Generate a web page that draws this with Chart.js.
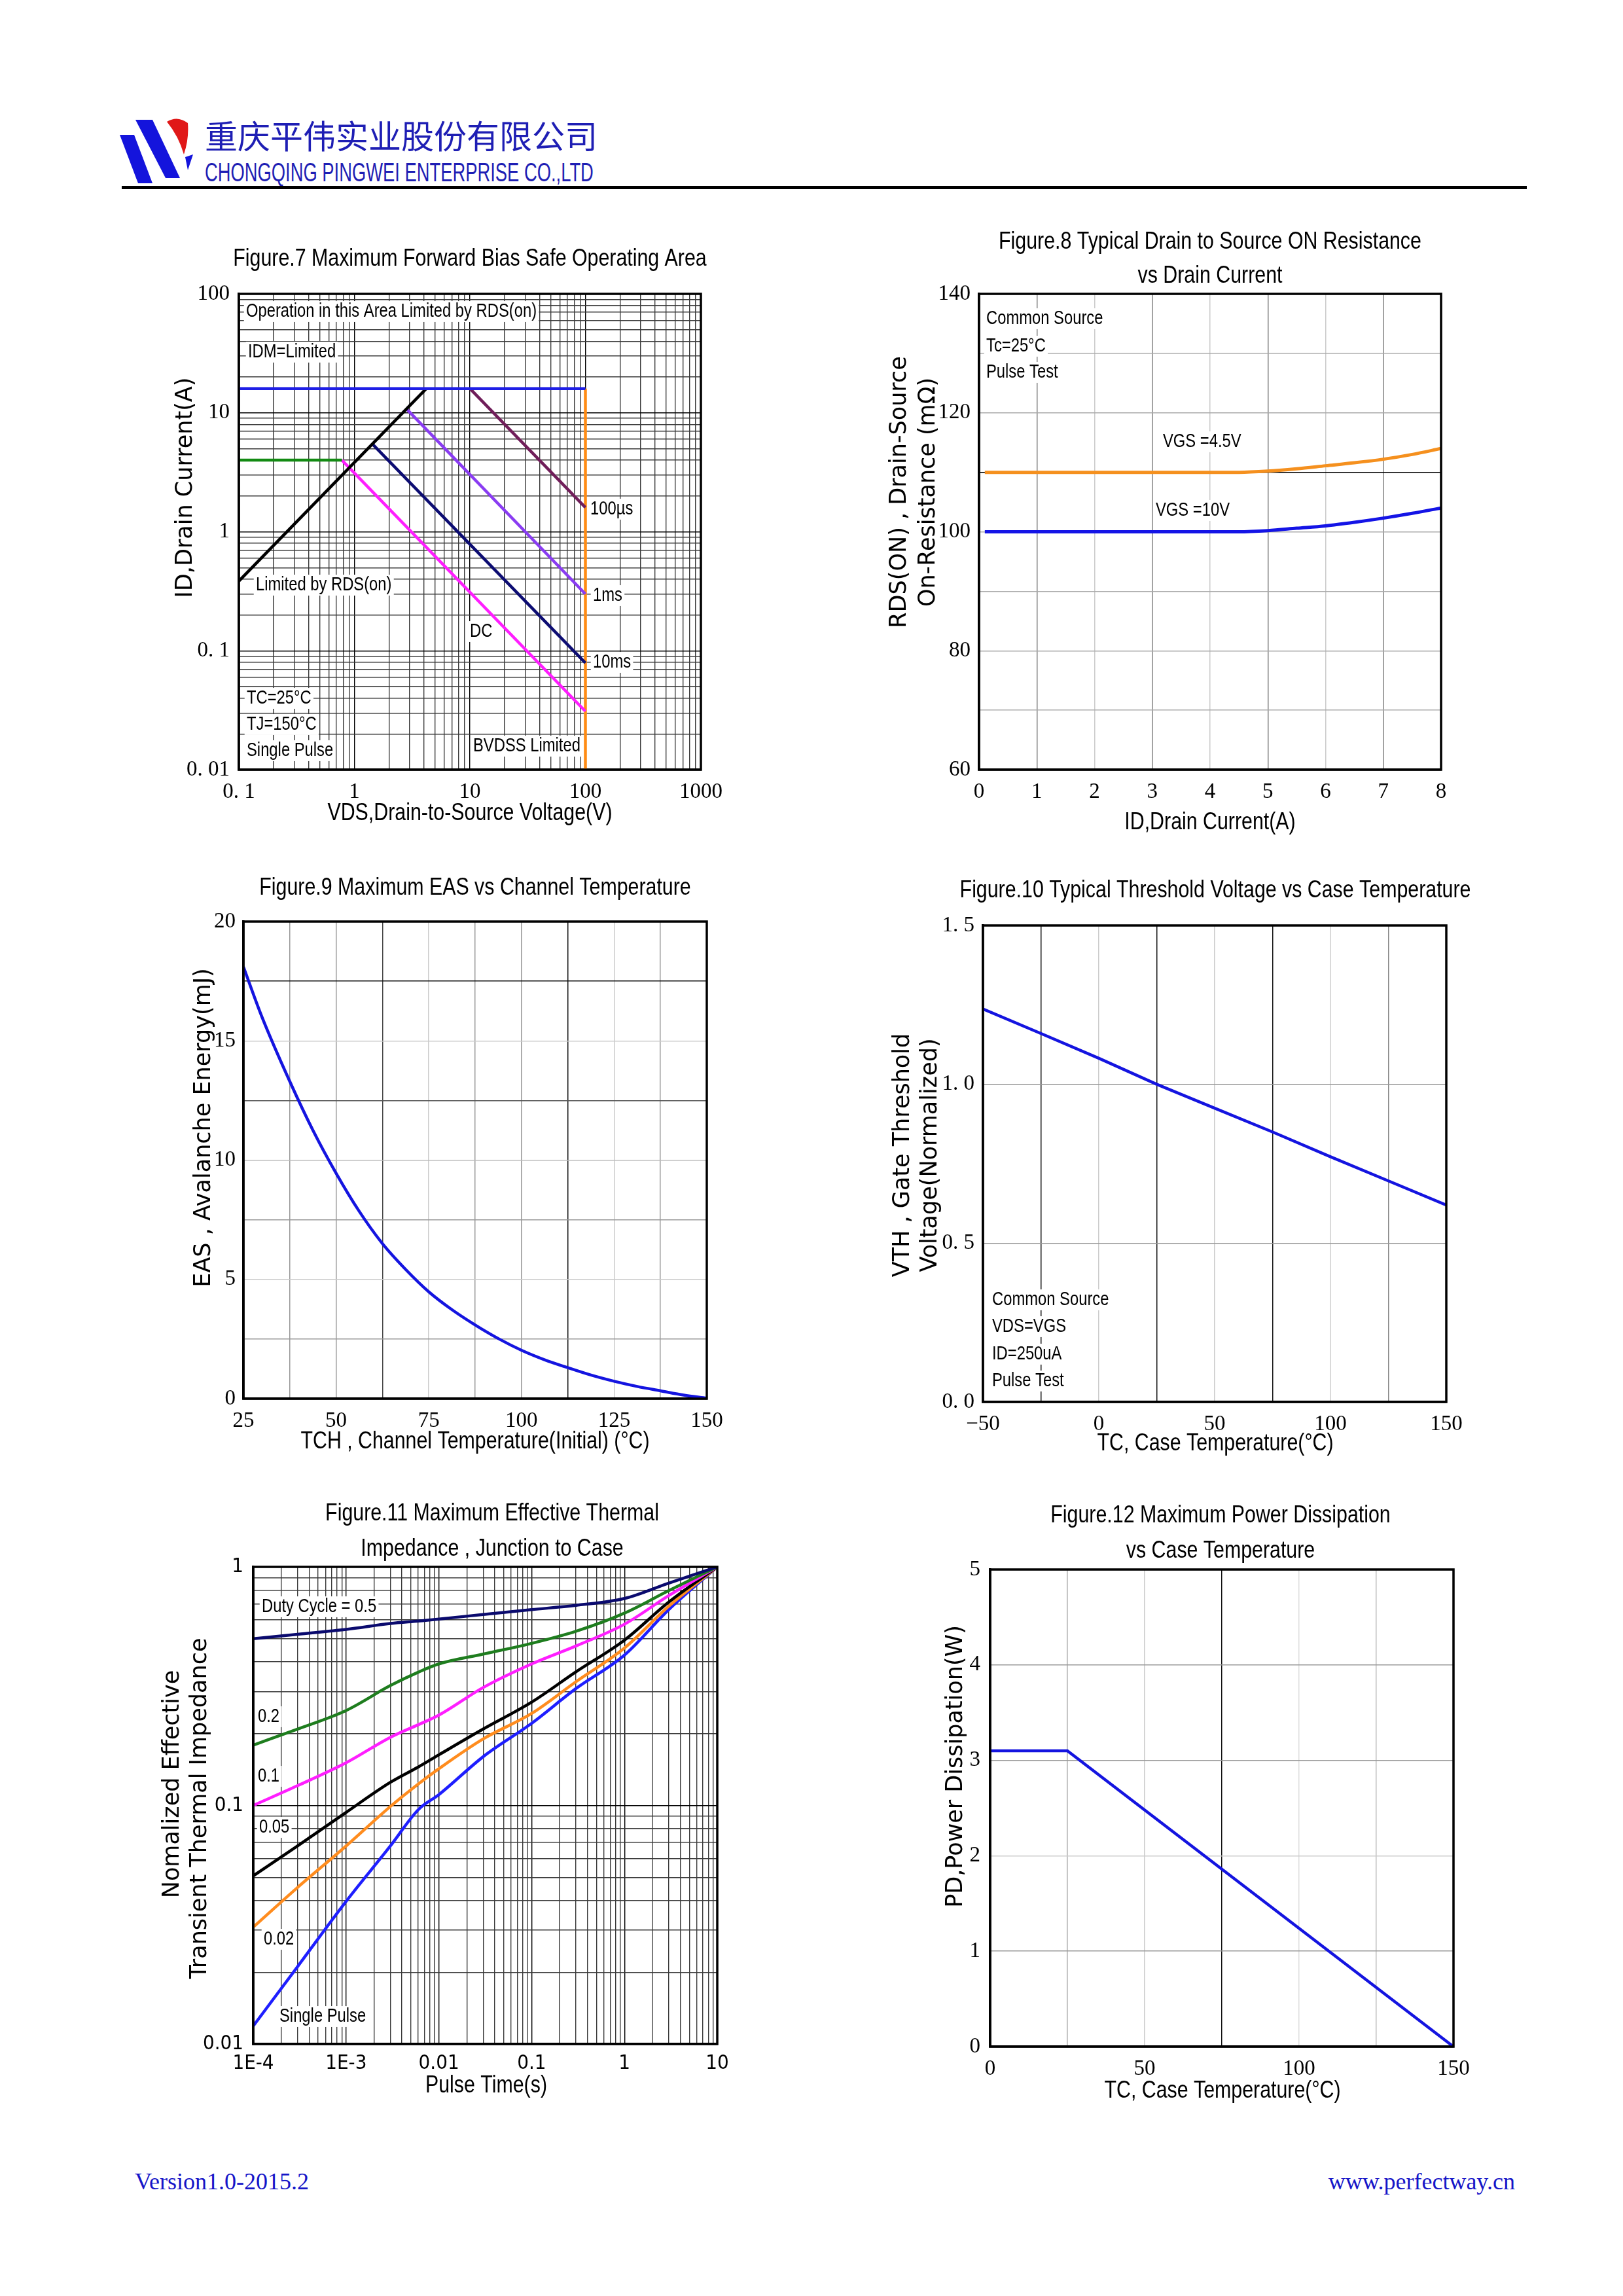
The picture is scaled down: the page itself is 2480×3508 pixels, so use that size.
<!DOCTYPE html>
<html>
<head>
<meta charset="utf-8">
<script src="https://cdn.jsdelivr.net/npm/chart.js@4.4.1/dist/chart.umd.min.js"></script>
<style>
  html, body { margin: 0; padding: 0; background: #fff; }
  #page { position: relative; width: 2480px; height: 3508px; overflow: hidden; background: #fff; }
  .hdr { position: absolute; white-space: nowrap; line-height: 1; color: #1e1eb4; transform-origin: left top; }
  #cn { left: 313px; top: 180px; font-family: "Noto Sans CJK SC"; font-size: 50px; }
  #en { left: 313px; top: 243px; font-family: "Liberation Sans"; font-size: 40px; transform: scaleX(0.684); }
  #rule { position: absolute; left: 186px; top: 284px; width: 2147px; height: 5px; background: #000; }
  .foot { position: absolute; top: 3315px; line-height: 1; font-family: "Liberation Serif"; font-size: 36px; color: #1515c8; white-space: nowrap; }
  #ver { left: 206px; }
  #web { right: 165px; }
  #logo { position: absolute; left: 183px; top: 180px; width: 113px; height: 100px; }
</style>
</head>
<body>
<div id="page">
  <svg id="logo" viewBox="0 0 113 100">
    <polygon points="0,26 22,26 50,100 28,100" fill="#1414dc"/>
    <polygon points="24,3 50,3 92,92 70,92" fill="#1414dc"/>
    <path d="M72 6 Q88 -4 104 8 Q106 32 98 56 Q90 28 72 6 Z" fill="#e01818"/>
    <polygon points="100,60 112,56 104,80" fill="#1414dc"/>
  </svg>
  <div class="hdr" id="cn">重庆平伟实业股份有限公司</div>
  <div class="hdr" id="en">CHONGQING PINGWEI ENTERPRISE CO.,LTD</div>
  <div id="rule"></div>
  <div class="foot" id="ver">Version1.0-2015.2</div>
  <div class="foot" id="web">www.perfectway.cn</div>
</div>
<script>
// ---------------- data ----------------

// Figure 7 - safe operating area (VDS in V, ID in A)
const soaXTicks = [0.1, 1, 10, 100, 1000];
const soaXLabels = ['0. 1', '1', '10', '100', '1000'];
const soaYTicks = [0.01, 0.1, 1, 10, 100];
const soaYLabels = ['0. 01', '0. 1', '1', '10', '100'];
const soaIdmLimit = [[0.1, 16], [100, 16]];
const soaRdsLimit = [[0.1, 0.385], [4.2, 16]];
const soaCurrentLimit = [[0.1, 4.0], [0.78, 4.0]];
const soaDC = [[0.78, 4.0], [100, 0.031]];
const soa10ms = [[1.45, 5.4], [100, 0.079]];
const soa1ms = [[2.85, 10.7], [100, 0.30]];
const soa100us = [[10, 16], [100, 1.6]];
const soaBvdss = [[100, 16], [100, 0.01]];

// Figure 8 - RDS(on) vs drain current
const rdsCurrent = [0.1, 1, 2, 3, 4, 4.5, 5, 5.5, 6, 6.5, 7, 7.5, 8];
const rdsVgs45 = [110, 110, 110, 110, 110, 110, 110.2, 110.6, 111.1, 111.6, 112.2, 113, 114];
const rdsVgs10 = [100, 100, 100, 100, 100, 100, 100.2, 100.6, 101, 101.6, 102.3, 103.1, 104];

// Figure 9 - EAS vs channel temperature
const easTemp = [25, 30, 37.5, 43.75, 50, 56.25, 62.5, 68.75, 75, 81.25, 87.5, 93.75, 100, 106.25, 112.5, 118.75, 125, 131.25, 137.5, 143.75, 150];
const easEnergy = [18.1, 16.0, 13.3, 11.25, 9.45, 7.85, 6.5, 5.42, 4.48, 3.73, 3.09, 2.52, 2.03, 1.63, 1.30, 0.99, 0.73, 0.51, 0.33, 0.15, 0.02];

// Figure 10 - threshold voltage vs case temperature
const vthTemp = [-50, -25, 0, 25, 50, 75, 100, 125, 150];
const vthNorm = [1.237, 1.160, 1.082, 1.0, 0.925, 0.850, 0.772, 0.696, 0.62];
const vthXTicks = [-50, 0, 50, 100, 150];
const vthXLabels = ['\u221250', '0', '50', '100', '150'];
const vthYTicks = [0, 0.5, 1.0, 1.5];
const vthYLabels = ['0. 0', '0. 5', '1. 0', '1. 5'];

// Figure 11 - transient thermal impedance
const zthTime = [1e-4, 3e-4, 1e-3, 3e-3, 6e-3, 1e-2, 3e-2, 0.1, 0.3, 1, 3, 10];
const zthD05 = [0.50, 0.522, 0.547, 0.579, 0.593, 0.604, 0.632, 0.662, 0.69, 0.737, 0.855, 1];
const zthD02 = [0.179, 0.209, 0.25, 0.318, 0.362, 0.392, 0.431, 0.478, 0.537, 0.64, 0.795, 1];
const zthD01 = [0.10, 0.121, 0.151, 0.193, 0.218, 0.239, 0.312, 0.392, 0.466, 0.575, 0.758, 1];
const zthD005 = [0.0507, 0.0676, 0.0935, 0.125, 0.145, 0.163, 0.209, 0.271, 0.363, 0.493, 0.712, 1];
const zthD002 = [0.0309, 0.0453, 0.0676, 0.099, 0.123, 0.1425, 0.19, 0.243, 0.33, 0.457, 0.684, 1];
const zthSingle = [0.0119, 0.0211, 0.0396, 0.0676, 0.096, 0.111, 0.16, 0.221, 0.309, 0.427, 0.662, 1];
const zthXTicks = [1e-4, 1e-3, 0.01, 0.1, 1, 10];
const zthXLabels = ['1E-4', '1E-3', '0.01', '0.1', '1', '10'];
const zthYTicks = [0.01, 0.1, 1];
const zthYLabels = ['0.01', '0.1', '1'];

// Figure 12 - power dissipation vs case temperature
const pdTemp = [0, 25, 150];
const pdPower = [3.1, 3.1, 0];

// ---------------- helpers ----------------
const page = document.getElementById('page');
const M = { l: 200, t: 140, r: 110, b: 140 };
const YW = 100, XH = 60, FRAME = 3.5;
const SERIF = { family: '"Liberation Serif", "DejaVu Serif", serif', size: 33 };
const SANSN = { family: '"Liberation Sans Narrow", "DejaVu Sans Condensed", "Liberation Sans", sans-serif', size: 31 };

const pairs = arr => arr.map(([x, y]) => ({ x, y }));
const zip = (xs, ys) => xs.map((x, i) => ({ x, y: ys[i] }));
const near = (a, b) => Math.abs(a - b) < 1e-9 * Math.max(1, Math.abs(b));
function pick(ticks, labels) {
  return v => { const i = ticks.findIndex(t => near(t, v)); return i < 0 ? '' : labels[i]; };
}
function logGrid(fromExp, toExp) {
  const out = [];
  for (let e = fromExp; e < toExp; e++)
    for (let s = 1; s < 10; s++) out.push({ value: parseFloat((s * Math.pow(10, e)).toPrecision(3)) });
  out.push({ value: Math.pow(10, toExp) });
  return out;
}
const isDecade = v => near(Math.log10(v), Math.round(Math.log10(v)));

function title(text, x, y) { return { text, x, y, font: '37px "Liberation Sans"', size: 37, sx: 0.82, align: 'center' }; }
function ytitle(text, x, y) { return { text, x, y, font: '35px "DejaVu Sans"', size: 35, sx: 1, align: 'center', rotate: true }; }
function note(text, x, y) { return { text, x, y, font: '29px "Liberation Sans"', size: 29, sx: 0.82, align: 'left' }; }

function drawLabel(c, t, ox, oy, bg) {
  c.save();
  c.translate(t.x - ox, t.y - oy);
  if (t.rotate) c.rotate(-Math.PI / 2);
  c.font = t.font;
  c.textBaseline = 'middle';
  c.textAlign = t.align;
  c.scale(t.sx, 1);
  if (bg) {
    const w = c.measureText(t.text).width;
    const x0 = t.align === 'left' ? 0 : -w / 2;
    c.fillStyle = '#fff';
    c.fillRect(x0 - 4, -t.size * 0.55, w + 8, t.size * 1.1);
  }
  c.fillStyle = '#000';
  c.fillText(t.text, 0, 0);
  c.restore();
}

function textPlugin(ox, oy, outside, inside) {
  return {
    id: 'pageText',
    beforeDatasetsDraw(chart) { inside.forEach(t => drawLabel(chart.ctx, t, ox, oy, true)); },
    afterDatasetsDraw(chart) {
      const a = chart.chartArea, c = chart.ctx;
      c.save();
      c.strokeStyle = '#000';
      c.lineWidth = FRAME;
      c.strokeRect(a.left, a.top, a.right - a.left, a.bottom - a.top);
      c.restore();
    },
    afterDraw(chart) { outside.forEach(t => drawLabel(chart.ctx, t, ox, oy, false)); }
  };
}

function axis(base, fixSize) {
  const o = Object.assign({
    grid: { drawTicks: false, lineWidth: 1.5, color: '#aaa' },
    border: { display: true, color: '#000', width: FRAME },
  }, base);
  o.ticks = Object.assign({ color: '#000', autoSkip: false, maxRotation: 0, font: SERIF }, base.ticks || {});
  o.afterFit = fixSize;
  return o;
}

function mountChart(plot, datasets, xAxis, yAxis, outside, inside) {
  const w = plot.r - plot.l + M.l + M.r;
  const h = plot.b - plot.t + M.t + M.b;
  const ox = plot.l - M.l, oy = plot.t - M.t;
  const cv = document.createElement('canvas');
  cv.width = w; cv.height = h;
  cv.style.cssText = `position:absolute;left:${ox}px;top:${oy}px;width:${w}px;height:${h}px;`;
  page.appendChild(cv);
  new Chart(cv, {
    type: 'line',
    data: { datasets: datasets.map(d => Object.assign({ pointRadius: 0, fill: false, tension: 0 }, d)) },
    options: {
      responsive: false,
      animation: false,
      devicePixelRatio: 1,
      events: [],
      layout: { autoPadding: false, padding: { left: M.l - YW, top: M.t, right: M.r, bottom: M.b - XH } },
      plugins: { legend: { display: false }, tooltip: { enabled: false }, title: { display: false } },
      scales: {
        x: axis(Object.assign({ position: 'bottom' }, xAxis), s => { s.height = XH; }),
        y: axis(Object.assign({ position: 'left' }, yAxis), s => { s.width = YW; })
      }
    },
    plugins: [textPlugin(ox, oy, outside, inside || [])]
  });
}

// ---------------- Figure 7 ----------------
mountChart({ l: 365, t: 449, r: 1071, b: 1176 }, [
  { data: pairs(soaIdmLimit), borderColor: '#1e1ee6', borderWidth: 4.5 },
  { data: pairs(soaRdsLimit), borderColor: '#000000', borderWidth: 4.5 },
  { data: pairs(soaCurrentLimit), borderColor: '#138a13', borderWidth: 4.5 },
  { data: pairs(soaDC), borderColor: '#ff1eff', borderWidth: 4.5 },
  { data: pairs(soa10ms), borderColor: '#0c0c72', borderWidth: 4.5 },
  { data: pairs(soa1ms), borderColor: '#8a3cf2', borderWidth: 4.5 },
  { data: pairs(soa100us), borderColor: '#701e5a', borderWidth: 4.5 },
  { data: pairs(soaBvdss), borderColor: '#ff8c14', borderWidth: 4.5 }
], {
  type: 'logarithmic', min: 0.1, max: 1000,
  afterBuildTicks: s => { s.ticks = logGrid(-1, 3); },
  grid: { drawTicks: false, lineWidth: 1.4, color: c => isDecade(c.tick.value) ? '#000' : '#3a3a3a' },
  ticks: { padding: 15, callback: pick(soaXTicks, soaXLabels) }
}, {
  type: 'logarithmic', min: 0.01, max: 100,
  afterBuildTicks: s => { s.ticks = logGrid(-2, 2); },
  grid: { drawTicks: false, lineWidth: 1.4, color: c => isDecade(c.tick.value) ? '#000' : '#3a3a3a' },
  ticks: { padding: 14, callback: pick(soaYTicks, soaYLabels) }
}, [
  title('Figure.7 Maximum Forward Bias Safe Operating Area', 718, 396),
  ytitle('ID,Drain Current(A)', 284, 745),
  title('VDS,Drain-to-Source Voltage(V)', 718, 1243)
], [
  note('Operation in this Area Limited by RDS(on)', 376, 476),
  note('IDM=Limited', 379, 538),
  note('Limited by RDS(on)', 391, 894),
  note('DC', 718, 965),
  note('100µs', 902, 778),
  note('1ms', 906, 910),
  note('10ms', 906, 1012),
  note('TC=25°C', 377, 1067),
  note('TJ=150°C', 377, 1107),
  note('Single Pulse', 377, 1147),
  note('BVDSS Limited', 723, 1140)
]);

// ---------------- Figure 8 ----------------
mountChart({ l: 1496, t: 449, r: 2202, b: 1176 }, [
  { data: zip(rdsCurrent, rdsVgs45), borderColor: '#f5901e', borderWidth: 5, cubicInterpolationMode: 'monotone' },
  { data: zip(rdsCurrent, rdsVgs10), borderColor: '#1414e6', borderWidth: 5, cubicInterpolationMode: 'monotone' }
], {
  type: 'linear', min: 0, max: 8,
  grid: { drawTicks: false, lineWidth: 1.5, color: c => (Math.round(c.tick.value) % 2 === 1) ? '#808080' : '#cacaca' },
  ticks: { stepSize: 1, padding: 15 }
}, {
  type: 'linear', min: 60, max: 140,
  grid: { drawTicks: false, lineWidth: 1.5, color: c => near(c.tick.value, 110) ? '#000' : '#aaaaaa' },
  ticks: { stepSize: 10, padding: 13, callback: v => (Math.round(v) % 20 === 0 ? String(v) : '') }
}, [
  title('Figure.8 Typical Drain to Source ON Resistance', 1849, 370),
  title('vs Drain Current', 1849, 422),
  ytitle('RDS(ON) , Drain-Source', 1375, 752),
  ytitle('On-Resistance (mΩ)', 1419, 752),
  title('ID,Drain Current(A)', 1849, 1257)
], [
  note('Common Source', 1507, 487),
  note('Tc=25°C', 1507, 529),
  note('Pulse Test', 1507, 569),
  note('VGS =4.5V', 1777, 675),
  note('VGS =10V', 1766, 780)
]);

// ---------------- Figure 9 ----------------
const easGridX = { 37.5: '#999', 50: '#999', 62.5: '#444', 75: '#ccc', 87.5: '#999', 100: '#999', 112.5: '#111', 125: '#ccc', 137.5: '#999' };
const easGridY = { 2.5: '#999', 5: '#ccc', 7.5: '#999', 10: '#bbb', 12.5: '#555', 15: '#ccc', 17.5: '#111' };
mountChart({ l: 372, t: 1408, r: 1080, b: 2137 }, [
  { data: zip(easTemp, easEnergy), borderColor: '#1414e0', borderWidth: 4.5, cubicInterpolationMode: 'monotone' }
], {
  type: 'linear', min: 25, max: 150,
  grid: { drawTicks: false, lineWidth: 1.5, color: c => easGridX[c.tick.value] || '#999' },
  ticks: { stepSize: 12.5, padding: 15, callback: v => (v % 25 === 0 ? String(v) : '') }
}, {
  type: 'linear', min: 0, max: 20,
  grid: { drawTicks: false, lineWidth: 1.5, color: c => easGridY[c.tick.value] || '#999' },
  ticks: { stepSize: 2.5, padding: 12, callback: v => (v % 5 === 0 ? String(v) : '') }
}, [
  title('Figure.9 Maximum EAS vs Channel Temperature', 726, 1357),
  ytitle('EAS , Avalanche Energy(mJ)', 312, 1723),
  title('TCH , Channel Temperature(Initial) (°C)', 726, 2203)
]);

// ---------------- Figure 10 ----------------
const vthGridX = { '-25': '#111', 0: '#ccc', 25: '#111', 50: '#ccc', 75: '#111', 100: '#ccc', 125: '#888' };
mountChart({ l: 1502, t: 1414, r: 2210, b: 2142 }, [
  { data: zip(vthTemp, vthNorm), borderColor: '#1414e0', borderWidth: 4.5 }
], {
  type: 'linear', min: -50, max: 150,
  grid: { drawTicks: false, lineWidth: 1.5, color: c => vthGridX[c.tick.value] || '#999' },
  ticks: { stepSize: 25, padding: 15, callback: pick(vthXTicks, vthXLabels) }
}, {
  type: 'linear', min: 0, max: 1.5,
  grid: { drawTicks: false, lineWidth: 1.5, color: '#999' },
  ticks: { stepSize: 0.5, padding: 13, callback: pick(vthYTicks, vthYLabels) }
}, [
  title('Figure.10 Typical Threshold Voltage vs Case Temperature', 1857, 1361),
  ytitle('VTH , Gate Threshold', 1380, 1765),
  ytitle('Voltage(Normalized)', 1422, 1765),
  title('TC, Case Temperature(°C)', 1857, 2206)
], [
  note('Common Source', 1516, 1986),
  note('VDS=VGS', 1516, 2027),
  note('ID=250uA', 1516, 2069),
  note('Pulse Test', 1516, 2110)
]);

// ---------------- Figure 11 ----------------
const zthLine = (ys, color) => ({ data: zip(zthTime, ys), borderColor: color, borderWidth: 4.5, cubicInterpolationMode: 'monotone' });
mountChart({ l: 387, t: 2394, r: 1096, b: 3123 }, [
  zthLine(zthD05, '#0a0a6e'),
  zthLine(zthD02, '#1e7d1e'),
  zthLine(zthD01, '#ff1eff'),
  zthLine(zthD005, '#000000'),
  zthLine(zthD002, '#ff8c1e'),
  zthLine(zthSingle, '#1e1eff')
], {
  type: 'logarithmic', min: 1e-4, max: 10,
  afterBuildTicks: s => { s.ticks = logGrid(-4, 1); },
  grid: { drawTicks: false, lineWidth: 1.4, color: c => isDecade(c.tick.value) ? '#000' : '#3a3a3a' },
  ticks: { padding: 11, font: SANSN, callback: pick(zthXTicks, zthXLabels) }
}, {
  type: 'logarithmic', min: 0.01, max: 1,
  afterBuildTicks: s => { s.ticks = logGrid(-2, 0); },
  grid: { drawTicks: false, lineWidth: 1.4, color: c => isDecade(c.tick.value) ? '#000' : '#3a3a3a' },
  ticks: { padding: 15, font: SANSN, callback: pick(zthYTicks, zthYLabels) }
}, [
  title('Figure.11 Maximum Effective Thermal', 752, 2313),
  title('Impedance , Junction to Case', 752, 2367),
  ytitle('Nomalized Effective', 264, 2726),
  ytitle('Transient Thermal Impedance', 306, 2763),
  title('Pulse Time(s)', 743, 3187)
], [
  note('Duty Cycle = 0.5', 400, 2455),
  note('0.2', 394, 2623),
  note('0.1', 394, 2714),
  note('0.05', 396, 2792),
  note('0.02', 403, 2963),
  note('Single Pulse', 427, 3081)
]);

// ---------------- Figure 12 ----------------
const pdGridX = { 25: '#aaa', 50: '#ccc', 75: '#111', 100: '#ddd', 125: '#bbb' };
const pdGridY = { 1: '#999', 2: '#ccc', 3: '#999', 4: '#999' };
mountChart({ l: 1513, t: 2398, r: 2221, b: 3127 }, [
  { data: zip(pdTemp, pdPower), borderColor: '#1414e0', borderWidth: 4.5 }
], {
  type: 'linear', min: 0, max: 150,
  grid: { drawTicks: false, lineWidth: 1.5, color: c => pdGridX[c.tick.value] || '#999' },
  ticks: { stepSize: 25, padding: 15, callback: v => (v % 50 === 0 ? String(v) : '') }
}, {
  type: 'linear', min: 0, max: 5,
  grid: { drawTicks: false, lineWidth: 1.5, color: c => pdGridY[c.tick.value] || '#999' },
  ticks: { stepSize: 1, padding: 15 }
}, [
  title('Figure.12 Maximum Power Dissipation', 1865, 2316),
  title('vs Case Temperature', 1865, 2370),
  ytitle('PD,Power Dissipation(W)', 1461, 2699),
  title('TC, Case Temperature(°C)', 1868, 3195)
]);
</script>
</body>
</html>
